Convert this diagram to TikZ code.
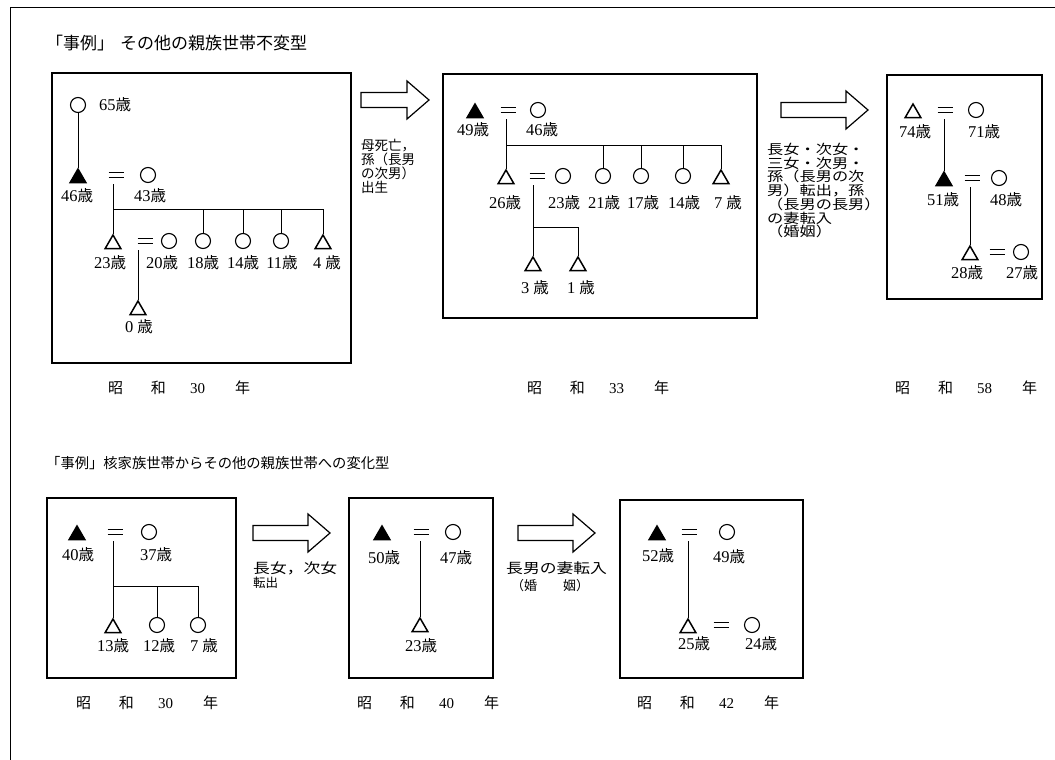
\documentclass[tikz,border=0pt]{standalone}
\usepackage{fontspec}
\setmainfont{Liberation Serif}
\newfontfamily\cjk{Noto Sans CJK JP}
\newfontfamily\cjkw[FakeStretch=1.2]{Noto Sans CJK JP}
\usetikzlibrary{shapes.geometric}
\newcommand{\ys}{{\cjk\fontsize{15.5}{15}\selectfont 歳}}
\newcommand{\eqbar}{\vbox{\hrule width 15pt height 1.3pt\vskip 3.4pt\hrule width 15pt height 1.3pt}}
\newcommand{\yrlabel}[1]{{\cjk 昭}\hspace{28pt}{\cjk 和}\hspace{24pt}#1\hspace{30pt}{\cjk 年}}
\tikzset{
  male/.style={regular polygon, regular polygon sides=3, draw, line width=1.5pt, minimum size=18pt, inner sep=0pt},
  dmale/.style={male, fill=black},
  fem/.style={circle, draw, line width=1.1pt, minimum size=15pt, inner sep=0pt},
  eqs/.style={inner sep=0pt},
  age/.style={inner sep=0pt, font=\fontsize{16.5}{16}\selectfont},
  rel/.style={line width=0.9pt},
  panel/.style={line width=1.1pt},
  note/.style={inner sep=0pt, align=left, anchor=north west, font=\fontsize{13.5}{12}\selectfont\cjk},
  ttl/.style={inner sep=0pt, anchor=west},
  yr/.style={inner sep=0pt, font=\fontsize{15}{15}\selectfont},
  barrow/.pic={\draw[line width=1.2pt] (0,-7.5) -- (#1-22,-7.5) -- (#1-22,-19) -- (#1,0) -- (#1-22,19) -- (#1-22,7.5) -- (0,7.5) -- cycle;}
}
\begin{document}
\begin{tikzpicture}[x=1pt,y=-1pt]
\useasboundingbox (0,0) rectangle (1055,760);
\fill[white] (0,0) rectangle (1055,760);
% outer frame
\draw[line width=1pt] (10,760) -- (10,8) -- (1055,8);
% titles
\node[ttl, font=\fontsize{17}{17}\selectfont\cjk] (title1) at (46,43) {「事例」\hspace{6pt}その他の親族世帯不変型};
\node[ttl, font=\fontsize{14.3}{15}\selectfont\cjk] (title2) at (46,463) {「事例」核家族世帯からその他の親族世帯への変化型};
% panels
\draw[panel] (52,73) rectangle (351,363);
\draw[panel] (443,74) rectangle (757,318);
\draw[panel] (887,75) rectangle (1042,299);
\draw[panel] (47,498) rectangle (236,678);
\draw[panel] (349,498) rectangle (493,678);
\draw[panel] (620,500) rectangle (803,678);
% arrows
\pic at (361,100) {barrow=68};
\pic at (781,110) {barrow=87};
\pic at (253,533) {barrow=77};
\pic at (518,533) {barrow=77};
% arrow notes
\node[note] (n1) at (361,139) {母死亡，\\孫（長男\\の次男）\\出生};
\node[note, font=\fontsize{13.5}{11.8}\selectfont\cjkw] (n2) at (767,143) {長女・次女・\\三女・次男・\\孫（長男の次\\男）転出，孫\\（長男の長男）\\の妻転入\\（婚姻）};
\node[note, font=\fontsize{14}{14}\selectfont\cjkw] (n3) at (253,562) {長女，次女};
\node[note, font=\fontsize{12.5}{12}\selectfont\cjk] (n3b) at (253,577) {転出};
\node[note, font=\fontsize{14}{14}\selectfont\cjkw] (n4) at (506,562) {長男の妻転入};
\node[note, font=\fontsize{13}{13}\selectfont\cjk] (n4b) at (511,579) {（婚\hspace{26pt}姻）};
% year labels
\node[yr] (y1) at (179,388) {\yrlabel{30}};
\node[yr] (y2) at (598,388) {\yrlabel{33}};
\node[yr] (y3) at (966,388) {\yrlabel{58}};
\node[yr] (y4) at (147,703) {\yrlabel{30}};
\node[yr] (y5) at (428,703) {\yrlabel{40}};
\node[yr] (y6) at (708,703) {\yrlabel{42}};

% ---------- panel 1 ----------
\node[fem] (c0) at (78,105) {};
\node[age] (a0) at (115,105) {65\ys};
\node[dmale] (t1) at (78,178) {};
\node[eqs] (e1) at (116,175) {\eqbar};
\node[fem] (c1) at (148,175) {};
\node[age] (a1) at (77,196) {46\ys};
\node[age] (a2) at (150,196) {43\ys};
\node[male] (t2) at (113,244) {};
\node[eqs] (e2) at (145,241) {\eqbar};
\node[fem] (c3) at (169,241) {};
\node[fem] (c4) at (203,241) {};
\node[fem] (c5) at (243,241) {};
\node[fem] (c6) at (281,241) {};
\node[male] (t7) at (323,244) {};
\node[age] (a3) at (110,263) {23\ys};
\node[age] (a4) at (162,263) {20\ys};
\node[age] (a5) at (203,263) {18\ys};
\node[age] (a6) at (243,263) {14\ys};
\node[age] (a7) at (282,263) {11\ys};
\node[age] (a8) at (327,263) {4 \ys};
\node[male] (t8) at (138,310) {};
\node[age] (a9) at (139,327) {0 \ys};
\coordinate (j1) at (113,209);
\draw[rel] (c0) -- (t1.north);
\draw[rel] ([yshift=-6pt]e1.south -| t2) -- (t2.north);
\draw[rel] (j1) -- (j1 -| t7);
\draw[rel] (j1 -| c4) -- (c4.north);
\draw[rel] (j1 -| c5) -- (c5.north);
\draw[rel] (j1 -| c6) -- (c6.north);
\draw[rel] (j1 -| t7) -- (t7.north);
\draw[rel] ([yshift=-6pt]e2.south -| t8) -- (t8.north);

% ---------- panel 2 ----------
\node[dmale] (t9) at (475,113) {};
\node[eqs] (e3) at (508,110) {\eqbar};
\node[fem] (c7) at (538,110) {};
\node[age] (b1) at (473,130) {49\ys};
\node[age] (b2) at (542,130) {46\ys};
\node[male] (t10) at (506,179) {};
\node[eqs] (e4) at (537,176) {\eqbar};
\node[fem] (c8) at (563,176) {};
\node[fem] (c9) at (603,176) {};
\node[fem] (c10) at (641,176) {};
\node[fem] (c11) at (683,176) {};
\node[male] (t11) at (721,179) {};
\node[age] (b3) at (505,203) {26\ys};
\node[age] (b4) at (564,203) {23\ys};
\node[age] (b5) at (604,203) {21\ys};
\node[age] (b6) at (643,203) {17\ys};
\node[age] (b7) at (684,203) {14\ys};
\node[age] (b8) at (728,203) {7 \ys};
\node[male] (t12) at (533,266) {};
\node[male] (t13) at (578,266) {};
\node[age] (b9) at (535,288) {3 \ys};
\node[age] (b10) at (581,288) {1 \ys};
\coordinate (j2) at (506,145);
\coordinate (j3) at (533,227);
\draw[rel] ([yshift=-6pt]e3.south -| t10) -- (t10.north);
\draw[rel] (j2) -- (j2 -| t11);
\draw[rel] (j2 -| c9) -- (c9.north);
\draw[rel] (j2 -| c10) -- (c10.north);
\draw[rel] (j2 -| c11) -- (c11.north);
\draw[rel] (j2 -| t11) -- (t11.north);
\draw[rel] ([yshift=-6pt]e4.south -| t12) -- (t12.north);
\draw[rel] (j3) -- (j3 -| t13) -- (t13.north);

% ---------- panel 3 ----------
\node[male] (t14) at (913,113) {};
\node[eqs] (e5) at (945,110) {\eqbar};
\node[fem] (c12) at (976,110) {};
\node[age] (d1) at (915,132) {74\ys};
\node[age] (d2) at (984,132) {71\ys};
\node[dmale] (t15) at (944,181) {};
\node[eqs] (e6) at (972,178) {\eqbar};
\node[fem] (c13) at (999,178) {};
\node[age] (d3) at (943,200) {51\ys};
\node[age] (d4) at (1006,200) {48\ys};
\node[male] (t16) at (970,255) {};
\node[eqs] (e7) at (997,252) {\eqbar};
\node[fem] (c14) at (1021,252) {};
\node[age] (d5) at (967,273) {28\ys};
\node[age] (d6) at (1022,273) {27\ys};
\draw[rel] ([yshift=-6pt]e5.south -| t15) -- (t15.north);
\draw[rel] ([yshift=-6pt]e6.south -| t16) -- (t16.north);

% ---------- panel 4 ----------
\node[dmale] (t17) at (77,535) {};
\node[eqs] (e8) at (115,532) {\eqbar};
\node[fem] (c15) at (149,532) {};
\node[age] (f1) at (78,555) {40\ys};
\node[age] (f2) at (156,555) {37\ys};
\node[male] (t18) at (113,628) {};
\node[fem] (c16) at (157,625) {};
\node[fem] (c17) at (198,625) {};
\node[age] (f3) at (113,646) {13\ys};
\node[age] (f4) at (159,646) {12\ys};
\node[age] (f5) at (204,646) {7 \ys};
\coordinate (j4) at (113,586);
\draw[rel] ([yshift=-6pt]e8.south -| t18) -- (t18.north);
\draw[rel] (j4) -- (j4 -| c17);
\draw[rel] (j4 -| c16) -- (c16.north);
\draw[rel] (j4 -| c17) -- (c17.north);

% ---------- panel 5 ----------
\node[dmale] (t19) at (382,535) {};
\node[eqs] (e9) at (421,532) {\eqbar};
\node[fem] (c18) at (453,532) {};
\node[age] (g1) at (384,558) {50\ys};
\node[age] (g2) at (456,558) {47\ys};
\node[male] (t20) at (420,627) {};
\node[age] (g3) at (421,646) {23\ys};
\draw[rel] ([yshift=-6pt]e9.south -| t20) -- (t20.north);

% ---------- panel 6 ----------
\node[dmale] (t21) at (657,535) {};
\node[eqs] (e10) at (689,532) {\eqbar};
\node[fem] (c19) at (727,532) {};
\node[age] (h1) at (658,556) {52\ys};
\node[age] (h2) at (729,557) {49\ys};
\node[male] (t22) at (688,628) {};
\node[eqs] (e11) at (721,625) {\eqbar};
\node[fem] (c20) at (752,625) {};
\node[age] (h3) at (694,644) {25\ys};
\node[age] (h4) at (761,644) {24\ys};
\draw[rel] ([yshift=-6pt]e10.south -| t22) -- (t22.north);
\end{tikzpicture}
\end{document}
